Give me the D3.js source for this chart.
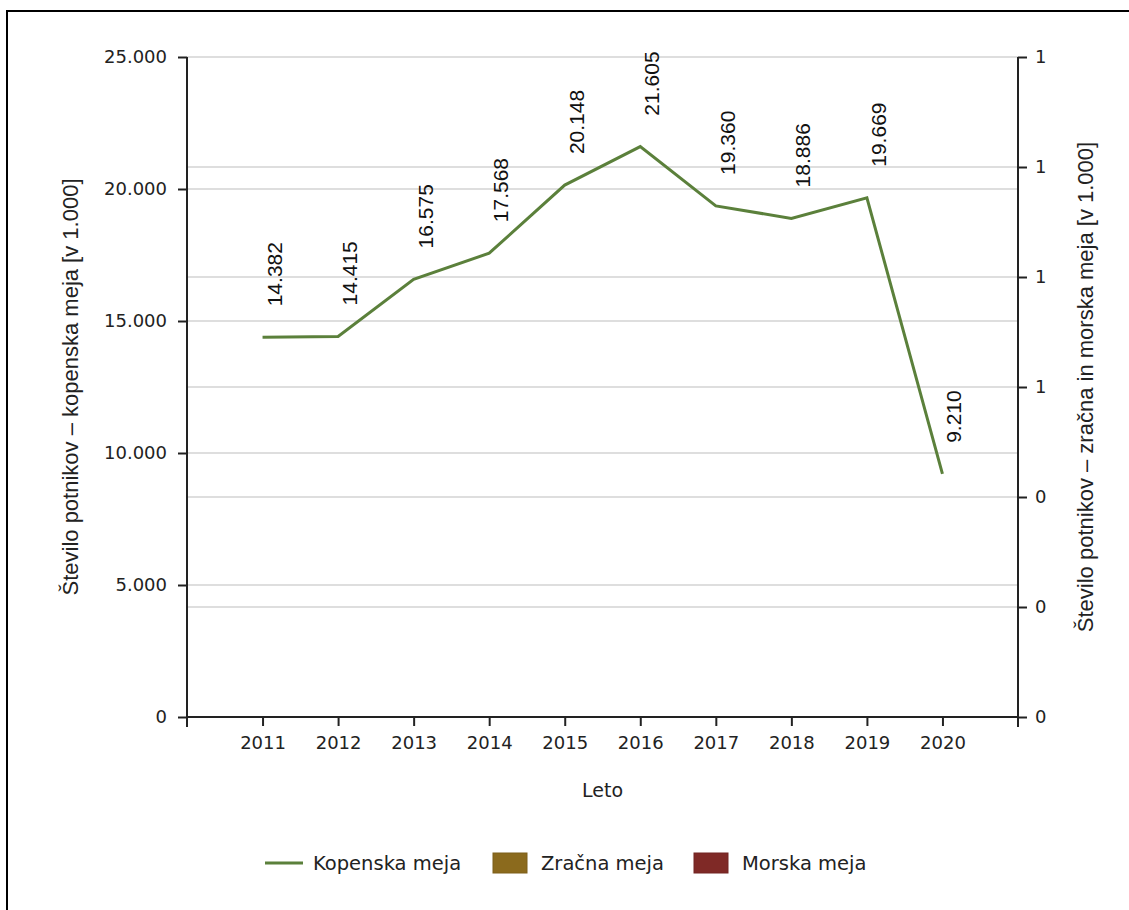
<!DOCTYPE html>
<html lang="sl">
<head>
<meta charset="utf-8">
<title>Število potnikov</title>
<script src="https://cdn.jsdelivr.net/npm/d3@7"></script>
<style>
  body { margin: 0; background: #fff; }
  .tick text { font-family: Tahoma, "DejaVu Sans", sans-serif; font-size: 18px; fill: #222; }
</style>
</head>
<body>
<script>
// data
var years = ["2011", "2012", "2013", "2014", "2015", "2016", "2017", "2018", "2019", "2020"];
var kopenska = [14382, 14415, 16575, 17568, 20148, 21605, 19360, 18886, 19669, 9210];
var leftTicks = [0, 5000, 10000, 15000, 20000, 25000];
var rightTicks = [0, 0.2, 0.4, 0.6, 0.8, 1.0, 1.2];
var legendNames = ["Kopenska meja", "Zračna meja", "Morska meja"];
var legendColors = ["#5b803b", "#8b6a1d", "#7f2926"];

var width = 1129, height = 910;
var plotLeft = 187, plotRight = 1018, plotTop = 57, plotBottom = 717;
var tahoma = 'Tahoma, "DejaVu Sans", sans-serif';
var arial = 'Arial, "Liberation Sans", sans-serif';

var sl = d3.formatLocale({decimal: ",", thousands: ".", grouping: [3], currency: ["", " €"]});
var fmt = sl.format(",d");

var svg = d3.select("body").append("svg")
  .attr("width", width)
  .attr("height", height);

// frame (top and left edge only)
svg.append("path")
  .attr("d", "M7," + height + "V11H" + width)
  .attr("fill", "none")
  .attr("stroke", "#000")
  .attr("stroke-width", 2);

var x = d3.scalePoint().domain(years).range([plotLeft, plotRight]).padding(1);
var y = d3.scaleLinear().domain([0, 25000]).range([plotBottom, plotTop]);
var y2 = d3.scaleLinear().domain([0, 1.2]).range([plotBottom, plotTop]);

// gridlines for both axes
svg.append("g").selectAll("line")
  .data(leftTicks.slice(1))
  .enter().append("line")
  .attr("x1", plotLeft).attr("x2", plotRight)
  .attr("y1", d => y(d)).attr("y2", d => y(d))
  .attr("stroke", "#dedede").attr("stroke-width", 2);

svg.append("g").selectAll("line")
  .data(rightTicks.slice(1))
  .enter().append("line")
  .attr("x1", plotLeft).attr("x2", plotRight)
  .attr("y1", d => y2(d)).attr("y2", d => y2(d))
  .attr("stroke", "#dedede").attr("stroke-width", 2);

// axes
var yAxis = svg.append("g")
  .attr("transform", "translate(" + plotLeft + ",0)")
  .call(d3.axisLeft(y).tickValues(leftTicks).tickFormat(fmt).tickSize(9).tickPadding(11));

var y2Axis = svg.append("g")
  .attr("transform", "translate(" + plotRight + ",0)")
  .call(d3.axisRight(y2).tickValues(rightTicks).tickFormat(d3.format(".0f")).tickSize(9).tickPadding(8));

var xAxis = svg.append("g")
  .attr("transform", "translate(0," + plotBottom + ")")
  .call(d3.axisBottom(x).tickSize(9).tickPadding(10));

[yAxis, y2Axis, xAxis].forEach(function(g) {
  g.select(".domain").remove();
  g.selectAll(".tick line").attr("stroke", "#222").attr("stroke-width", 2);
});

// axis lines drawn by hand so the corners get the extra tick
svg.append("path")
  .attr("d", "M" + plotLeft + "," + plotTop + "V" + (plotBottom + 10) +
             "M" + (plotLeft - 1) + "," + plotBottom + "H" + (plotRight + 1) +
             "M" + plotRight + "," + plotTop + "V" + (plotBottom + 10))
  .attr("fill", "none")
  .attr("stroke", "#222")
  .attr("stroke-width", 2);

// the line
var line = d3.line()
  .x((d, i) => x(years[i]))
  .y(d => y(d));

svg.append("path")
  .datum(kopenska)
  .attr("d", line)
  .attr("fill", "none")
  .attr("stroke", legendColors[0])
  .attr("stroke-width", 3);

// value labels
svg.append("g").selectAll("text")
  .data(kopenska)
  .enter().append("text")
  .attr("transform", (d, i) => "translate(" + (x(years[i]) + 19) + "," + (y(d) - 31) + ") rotate(-90)")
  .attr("font-family", arial)
  .attr("font-size", 21)
  .attr("fill", "#111")
  .text(d => fmt(d));

// axis titles
svg.append("text")
  .attr("transform", "translate(78," + (plotTop + plotBottom) / 2 + ") rotate(-90)")
  .attr("text-anchor", "middle")
  .attr("font-family", arial)
  .attr("font-size", 22)
  .attr("fill", "#222")
  .text("Število potnikov – kopenska meja [v 1.000]");

svg.append("text")
  .attr("transform", "translate(1093," + (plotTop + plotBottom) / 2 + ") rotate(-90)")
  .attr("text-anchor", "middle")
  .attr("font-family", arial)
  .attr("font-size", 22)
  .attr("fill", "#222")
  .text("Število potnikov – zračna in morska meja [v 1.000]");

svg.append("text")
  .attr("x", (plotLeft + plotRight) / 2)
  .attr("y", 797)
  .attr("text-anchor", "middle")
  .attr("font-family", tahoma)
  .attr("font-size", 19)
  .attr("fill", "#222")
  .text("Leto");

// legend
var legendX = [265, 493, 694];
var lg = svg.append("g").selectAll("g")
  .data(legendNames)
  .enter().append("g")
  .attr("transform", (d, i) => "translate(" + legendX[i] + ",863)");

lg.each(function(d, i) {
  var g = d3.select(this);
  if (i === 0) {
    g.append("line").attr("x1", 0).attr("x2", 38).attr("y1", 0).attr("y2", 0)
      .attr("stroke", legendColors[i]).attr("stroke-width", 3);
  } else {
    g.append("rect").attr("x", 0).attr("y", -10).attr("width", 34).attr("height", 20)
      .attr("fill", legendColors[i]).attr("stroke", d3.color(legendColors[i]).darker(0.3));
  }
  g.append("text")
    .attr("x", 48)
    .attr("y", 7)
    .attr("font-family", tahoma)
    .attr("font-size", 19.5)
    .attr("fill", "#222")
    .text(d);
});
</script>
</body>
</html>
